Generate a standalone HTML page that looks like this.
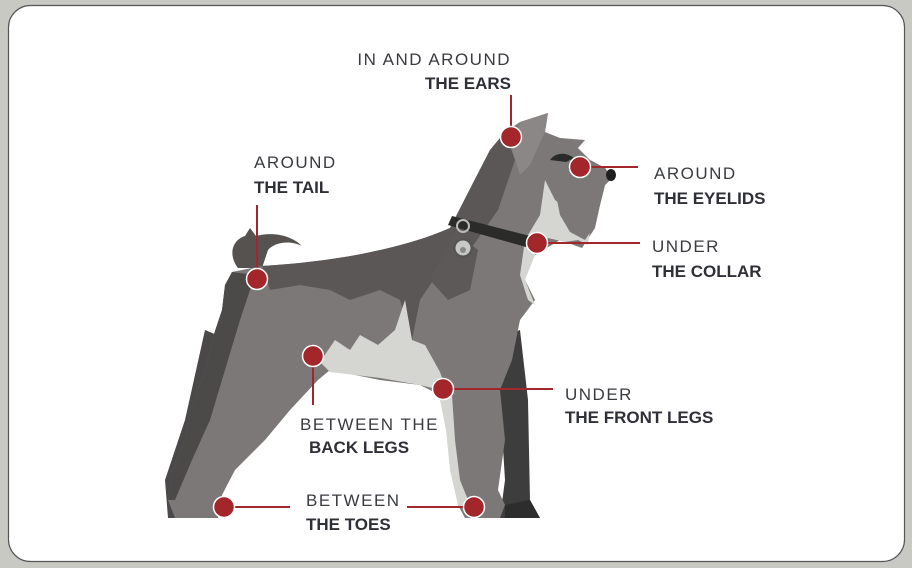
<!DOCTYPE html>
<html><head><meta charset="utf-8"><style>
html,body{margin:0;padding:0;background:#c9c9c4;}
svg{display:block}
text{font-family:"Liberation Sans",sans-serif;font-size:17px;fill:#2f3036}
.l{font-weight:normal;fill:#3a3b40;letter-spacing:1.5px}
.b{font-weight:bold;letter-spacing:0px}
</style></head><body>
<svg width="912" height="568" viewBox="0 0 912 568" xmlns="http://www.w3.org/2000/svg">
<rect x="0" y="0" width="912" height="568" fill="#c9c9c4"/>
<rect x="8.5" y="5.5" width="896" height="556" rx="22" fill="#fff" stroke="#555" stroke-width="1.2"/>
<path d="M238,268 C228,255 232,240 245,236 L250,228 L256,236 C270,232 290,234 302,246 C290,240 275,242 268,250 L262,268 Z" fill="#55524f"/>
<path d="M205,330 L185,420 L165,480 L168,518 L212,518 L215,490 L250,430 L280,390 L300,370 Z" fill="#4a4848"/>
<path d="M495,340 L520,330 L528,400 L530,500 L540,518 L500,518 L505,480 L500,400 Z" fill="#3e3d3d"/>
<path d="M232,272 L262,266 C330,262 400,250 450,228 L472,185 L490,150 L505,132 L520,122 L548,113 L545,132 L560,138 L585,140 L578,148 L590,160 L605,168 L612,178 L605,185 L600,205 L595,228 L582,248 L560,240 L540,252 L528,260 L525,280 L535,300 L520,320 L512,360 L500,390 L505,440 L498,490 L505,505 L500,518 L465,518 L458,505 L445,420 L440,395 L420,385 L380,380 L330,370 L318,380 L290,410 L265,440 L235,470 L222,495 L218,518 L175,518 L168,500 L172,470 L185,440 L190,410 L205,370 L212,340 L222,310 L225,285 Z" fill="#7b7877"/>
<path d="M262,266 C330,262 400,250 450,228 L472,185 L490,150 L505,132 L515,160 L498,210 L470,250 L440,270 L420,300 L412,340 L400,300 L380,290 L350,300 L330,290 L300,285 L270,290 Z" fill="#5a5756"/>
<path d="M232,272 L255,275 L240,320 L225,370 L210,420 L192,460 L175,500 L168,500 L172,470 L185,440 L190,410 L205,370 L212,340 L222,310 L225,285 Z" fill="#4c4a49"/>
<path d="M455,232 L478,250 L470,290 L448,300 L430,280 Z" fill="#5c5958"/>
<path d="M320,362 L335,340 L350,350 L360,335 L378,345 L395,330 L405,300 L412,340 L425,345 L440,372 L448,395 L440,390 L420,385 L380,378 L330,372 Z" fill="#d5d6d1"/>
<path d="M440,385 L452,395 L455,440 L460,480 L468,500 L465,510 L458,505 L450,470 L446,430 L440,400 Z" fill="#d5d6d1"/>
<path d="M545,180 L555,200 L575,215 L590,230 L588,245 L578,240 L565,242 L548,238 L535,255 L525,280 L535,305 L528,300 L520,275 L525,240 L540,215 Z" fill="#d5d6d1"/>
<path d="M560,150 L590,160 L605,168 L612,178 L605,185 L600,205 L595,225 L585,240 L570,232 L560,215 L555,190 Z" fill="#7b7877"/>
<path d="M520,122 L548,113 L545,132 L530,165 L520,175 L512,150 Z" fill="#8a8786"/>
<path d="M550,160 C556,152 566,152 574,158 L566,162 Z" fill="#2a2a2a"/>
<ellipse cx="611" cy="175" rx="5" ry="6" fill="#1f1f1f"/>
<path d="M505,505 L530,500 L540,518 L505,518 Z" fill="#2e2d2d"/>
<path d="M448,225 L452,216 L530,236 L526,247 Z" fill="#2b2b2a"/>
<circle cx="463" cy="226" r="6" fill="none" stroke="#bbb" stroke-width="2"/>
<circle cx="463" cy="248" r="10" fill="#555" />
<circle cx="463" cy="248" r="7.5" fill="#c8c8c8"/>
<circle cx="463" cy="250" r="3" fill="#888"/>
<g stroke="#a3262b" stroke-width="2" fill="none">
<line x1="511" y1="95" x2="511" y2="137"/>
<line x1="257" y1="205" x2="257" y2="279"/>
<line x1="580" y1="167" x2="638" y2="167"/>
<line x1="537" y1="243" x2="640" y2="243"/>
<line x1="313" y1="356" x2="313" y2="405"/>
<line x1="443" y1="389" x2="553" y2="389"/>
<line x1="224" y1="507" x2="290" y2="507"/>
<line x1="407" y1="507" x2="474" y2="507"/>
</g>
<g fill="#a3262b" stroke="#fff" stroke-width="1.5">
<circle cx="511" cy="137" r="10.5"/>
<circle cx="257" cy="279" r="10.5"/>
<circle cx="580" cy="167" r="10.5"/>
<circle cx="537" cy="243" r="10.5"/>
<circle cx="313" cy="356" r="10.5"/>
<circle cx="443" cy="389" r="10.5"/>
<circle cx="224" cy="507" r="10.5"/>
<circle cx="474" cy="507" r="10.5"/>
</g>
<text class="l" x="511" y="65" text-anchor="end">IN AND AROUND</text>
<text class="b" x="511" y="89" text-anchor="end">THE EARS</text>
<text class="l" x="254" y="168">AROUND</text>
<text class="b" x="254" y="193">THE TAIL</text>
<text class="l" x="654" y="179">AROUND</text>
<text class="b" x="654" y="204">THE EYELIDS</text>
<text class="l" x="652" y="252">UNDER</text>
<text class="b" x="652" y="277">THE COLLAR</text>
<text class="l" x="300" y="430">BETWEEN THE</text>
<text class="b" x="309" y="453">BACK LEGS</text>
<text class="l" x="565" y="400">UNDER</text>
<text class="b" x="565" y="423">THE FRONT LEGS</text>
<text class="l" x="306" y="506">BETWEEN</text>
<text class="b" x="306" y="530">THE TOES</text>
</svg>
</body></html>
